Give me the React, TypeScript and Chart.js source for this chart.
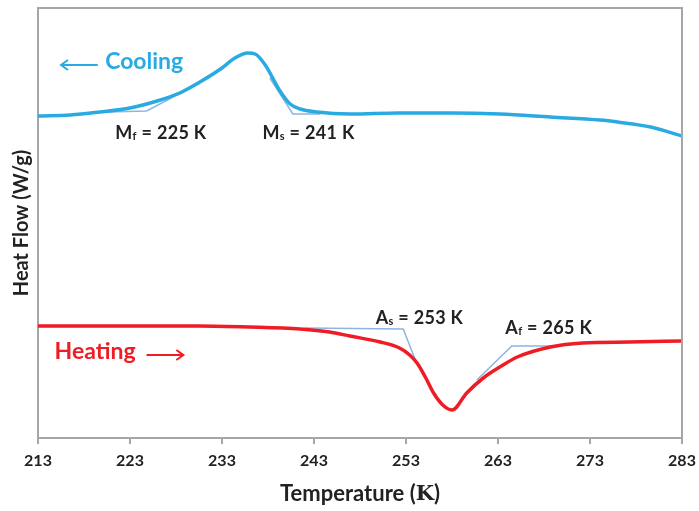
import React, { useEffect, useRef } from "react";
import { Chart, registerables } from "chart.js";

Chart.register(...registerables);

// Temperature (K) and heat flow (arbitrary units, no y ticks in the reference)
const coolingT = [213, 216.5, 219.7, 223, 226.3, 228.4, 230.6, 233, 234.4, 235.8, 236.6, 237.7, 239.3, 240.4, 241.5, 243.3, 246.9, 252.3, 257.8, 263.2, 268.7, 274.1, 276.0, 279.6, 283];
const coolingHF = [322, 323, 326, 330, 338, 345, 356, 370, 380, 385, 384, 373, 347, 334, 329, 326, 324, 325, 325, 324, 321, 318, 316, 311, 302];

const heatingT = [213, 219.7, 230.6, 236, 241.5, 244.7, 246.9, 250.2, 252.3, 253.4, 254.2, 255.1, 256, 257, 258, 259.6, 261.4, 263.2, 265.1, 268.7, 272.2, 277.3, 283];
const heatingHF = [112, 112, 112, 111, 109, 106, 102, 96, 90, 83, 75, 61, 45, 33, 28, 45, 60, 71, 81, 91, 95, 96, 97];

// Onset / finish tangent constructions
const mfT = [220.5, 224.8, 230.6];
const mfHF = [326, 327, 355];
const msT = [238.2, 240.7, 243.7];
const msHF = [360, 324, 324];
const asT = [242, 252.7, 254.1];
const asHF = [110, 109, 76];
const afT = [260.7, 264.5, 269.7];
const afHF = [58, 92, 92];

const xTicks = [213, 223, 233, 243, 253, 263, 273, 283];

const BLUE = "#29ABE2";
const RED = "#EE1C25";
const TANGENT = "#8DB4E2";
const TEXT = "#222222";
const AXIS = "#A6A6A6";
const FONT = "Lato, 'Open Sans', sans-serif";

const pts = (xs: number[], ys: number[]) => xs.map((x, i) => ({ x, y: ys[i] }));

function drawArrow(ctx: CanvasRenderingContext2D, x1: number, y1: number, x2: number, y2: number, color: string) {
  ctx.save();
  ctx.strokeStyle = color;
  ctx.lineWidth = 2;
  ctx.beginPath();
  ctx.moveTo(x1, y1);
  ctx.lineTo(x2, y2);
  const dir = Math.sign(x2 - x1);
  ctx.moveTo(x2 - dir * 7, y2 - 5);
  ctx.lineTo(x2, y2);
  ctx.lineTo(x2 - dir * 7, y2 + 5);
  ctx.stroke();
  ctx.restore();
}

function drawSubLabel(ctx: CanvasRenderingContext2D, main: string, sub: string, rest: string, x: number, y: number) {
  ctx.save();
  ctx.fillStyle = TEXT;
  ctx.textBaseline = "middle";
  ctx.textAlign = "left";
  (ctx as any).letterSpacing = "0.3px";
  ctx.font = `bold 18px ${FONT}`;
  ctx.fillText(main, x, y);
  let cx = x + ctx.measureText(main).width;
  ctx.font = `bold 11px ${FONT}`;
  ctx.fillText(sub, cx, y + 3);
  cx += ctx.measureText(sub).width;
  ctx.font = `bold 18px ${FONT}`;
  ctx.fillText(rest, cx, y);
  ctx.restore();
}

const annotations = {
  id: "annotations",
  afterDatasetsDraw(chart: any) {
    const { ctx, chartArea, scales } = chart;
    const X = (t: number) => scales.x.getPixelForValue(t);
    const Y = (v: number) => scales.y.getPixelForValue(v);
    ctx.save();
    // frame on top and right
    ctx.strokeStyle = AXIS;
    ctx.lineWidth = 2;
    ctx.beginPath();
    ctx.moveTo(chartArea.left, chartArea.top);
    ctx.lineTo(chartArea.right, chartArea.top);
    ctx.lineTo(chartArea.right, chartArea.bottom);
    ctx.stroke();

    // Cooling / Heating labels
    ctx.font = `bold 23px ${FONT}`;
    ctx.textBaseline = "middle";
    ctx.textAlign = "left";
    ctx.fillStyle = BLUE;
    ctx.fillText("Cooling", X(220.3), Y(376));
    drawArrow(ctx, X(219.5), Y(373), X(215.5), Y(373), BLUE);
    ctx.fillStyle = RED;
    ctx.font = `bold 23px ${FONT}`;
    ctx.fillText("Heating", X(214.8), Y(86));
    drawArrow(ctx, X(224.8), Y(83), X(228.8), Y(83), RED);

    drawSubLabel(ctx, "M", "f", " = 225 K", X(221.4), Y(305));
    drawSubLabel(ctx, "M", "s", " = 241 K", X(237.4), Y(305));
    drawSubLabel(ctx, "A", "s", " = 253 K", X(249.7), Y(120));
    drawSubLabel(ctx, "A", "f", " = 265 K", X(263.8), Y(110));

    // x-axis title with serif K
    const cy = chartArea.bottom + 56;
    const p1 = "Temperature (";
    const p2 = "K";
    const p3 = ")";
    ctx.fillStyle = TEXT;
    ctx.font = `bold 22px ${FONT}`;
    const w1 = ctx.measureText(p1).width;
    const w3 = ctx.measureText(p3).width;
    ctx.font = `bold 21px 'DejaVu Serif', serif`;
    const w2 = ctx.measureText(p2).width;
    const total = w1 + w2 + w3;
    let sx = (chartArea.left + chartArea.right) / 2 - total / 2;
    ctx.font = `bold 22px ${FONT}`;
    ctx.fillText(p1, sx, cy);
    sx += w1;
    ctx.font = `bold 21px 'DejaVu Serif', serif`;
    ctx.fillText(p2, sx, cy + 1);
    sx += w2;
    ctx.font = `bold 22px ${FONT}`;
    ctx.fillText(p3, sx, cy);
    ctx.restore();
  },
};

export default function App() {
  const ref = useRef<HTMLCanvasElement>(null);
  useEffect(() => {
    document.body.style.margin = "0";
    if (!ref.current) return;
    const line = (data: any, color: string, width: number, smooth: boolean) => ({
      data,
      borderColor: color,
      borderWidth: width,
      pointRadius: 0,
      fill: false,
      cubicInterpolationMode: smooth ? "monotone" : "default",
      tension: 0,
    });
    const chart = new Chart(ref.current, {
      type: "line",
      data: {
        datasets: [
          line(pts(coolingT, coolingHF), BLUE, 3.5, true),
          line(pts(heatingT, heatingHF), RED, 3.5, true),
          line(pts(mfT, mfHF), TANGENT, 1.5, false),
          line(pts(msT, msHF), TANGENT, 1.5, false),
          line(pts(asT, asHF), TANGENT, 1.5, false),
          line(pts(afT, afHF), TANGENT, 1.5, false),
        ] as any,
      },
      options: {
        animation: false,
        responsive: false,
        layout: { padding: { top: 8, right: 17, left: 0, bottom: 0 } },
        plugins: { legend: { display: false }, tooltip: { enabled: false } },
        scales: {
          x: {
            type: "linear",
            min: 213,
            max: 283,
            afterBuildTicks: (s: any) => {
              s.ticks = xTicks.map((v) => ({ value: v }));
            },
            afterFit: (s: any) => {
              s.height = 73;
              s.paddingLeft = 0;
              s.paddingRight = 0;
            },
            ticks: {
              color: TEXT,
              font: { family: FONT, size: 16, weight: "bold" },
              padding: 7,
              maxRotation: 0,
              autoSkip: false,
            },
            grid: { display: true, drawOnChartArea: false, drawTicks: true, tickLength: 6, color: AXIS, lineWidth: 2 },
            border: { display: true, color: AXIS, width: 2 },
          },
          y: {
            type: "linear",
            min: 0,
            max: 430,
            afterFit: (s: any) => {
              s.width = 38;
              s.paddingTop = 0;
              s.paddingBottom = 0;
            },
            ticks: { display: false },
            grid: { display: false },
            border: { display: true, color: AXIS, width: 2 },
            title: {
              display: true,
              text: "Heat Flow (W/g)",
              color: TEXT,
              font: { family: FONT, size: 20, weight: "bold" },
              padding: { top: 10, bottom: 0 },
            },
          },
        },
      } as any,
      plugins: [annotations],
    });
    return () => chart.destroy();
  }, []);
  return (
    <div style={{ width: 699, height: 511, background: "#fff" }}>
      <canvas ref={ref} width={699} height={511} />
    </div>
  );
}
